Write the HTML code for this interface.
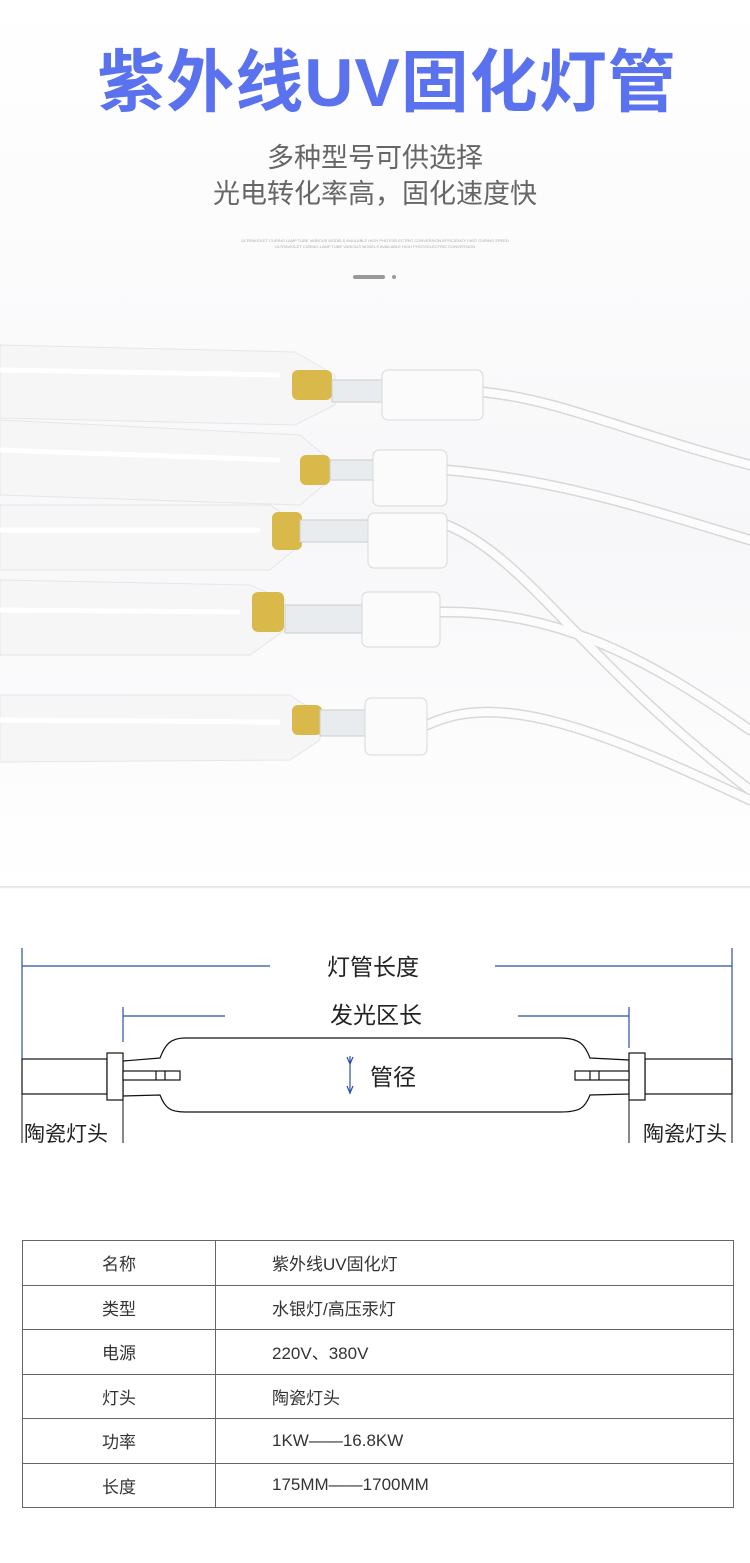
<!DOCTYPE html>
<html><head><meta charset="utf-8"><style>
body{margin:0;width:750px;height:1563px;background:#fff;position:relative;overflow:hidden;font-family:"Liberation Sans","Noto Sans CJK SC",sans-serif}
.a{position:absolute}
table{border-collapse:collapse;position:absolute;left:22px;top:1240px;width:712px}
td{border:1px solid #666;height:43.5px;font-size:17px;color:#333;padding:0}
td.n{width:192px;text-align:center}
td.v{padding-left:56px}
</style></head><body>
<div class="a" style="left:0;top:0;width:750px;height:888px;background:linear-gradient(#fff,#f7f7f9 60%,#fff)"></div>
<div class="a" style="left:12px;top:38px;width:750px;text-align:center;font-size:68px;font-weight:bold;color:#5a72ee;letter-spacing:1px;line-height:90px">紫外线UV固化灯管</div>
<div class="a" style="left:0;top:140px;width:750px;text-align:center;font-size:27px;color:#666;line-height:36px">多种型号可供选择<br>光电转化率高，固化速度快</div>
<div class="a" style="left:230px;top:238px;width:290px;text-align:center;font-size:4px;color:#aaa;line-height:6px">ULTRAVIOLET CURING LAMP TUBE VARIOUS MODELS AVAILABLE HIGH PHOTOELECTRIC CONVERSION EFFICIENCY FAST CURING SPEED ULTRAVIOLET CURING LAMP TUBE VARIOUS MODELS AVAILABLE HIGH PHOTOELECTRIC CONVERSION</div>
<div class="a" style="left:353px;top:275px;width:32px;height:4px;border-radius:2px;background:#999"></div>
<div class="a" style="left:392px;top:275px;width:4px;height:4px;border-radius:2px;background:#999"></div>
<svg class="a" style="left:0;top:330px" width="750" height="500">
<g fill="none" stroke="#d8d8d8" stroke-width="11" stroke-linecap="round">
<path d="M483 62 C560 70 620 100 750 135"/>
<path d="M447 140 C560 150 650 180 750 210"/>
<path d="M447 195 C530 230 580 330 750 460"/>
<path d="M440 282 C560 280 650 330 750 400"/>
<path d="M427 395 C500 360 600 400 750 470"/>
</g>
<g fill="none" stroke="#fcfcfc" stroke-width="8" stroke-linecap="round">
<path d="M483 62 C560 70 620 100 750 135"/>
<path d="M447 140 C560 150 650 180 750 210"/>
<path d="M447 195 C530 230 580 330 750 460"/>
<path d="M440 282 C560 280 650 330 750 400"/>
<path d="M427 395 C500 360 600 400 750 470"/>
</g>
<g fill="#f6f6f7" stroke="#e6e6ea">
<path d="M0 15 L295 22 L335 45 L335 75 L295 95 L0 88Z"/>
<path d="M0 90 L300 105 L330 130 L330 150 L300 175 L0 165Z"/>
<path d="M0 175 L270 175 L300 195 L300 215 L270 240 L0 240Z"/>
<path d="M0 250 L250 255 L285 270 L285 300 L250 325 L0 325Z"/>
<path d="M0 365 L290 365 L320 385 L320 410 L290 430 L0 432Z"/>
</g>
<g stroke="#fff" stroke-width="5">
<line x1="0" y1="40" x2="280" y2="45"/><line x1="0" y1="120" x2="280" y2="130"/><line x1="0" y1="200" x2="260" y2="200"/><line x1="0" y1="280" x2="240" y2="282"/><line x1="0" y1="390" x2="280" y2="392"/>
</g>
<g fill="#d9b94a"><rect x="292" y="40" width="40" height="30" rx="6"/><rect x="300" y="125" width="30" height="30" rx="6"/><rect x="272" y="182" width="30" height="38" rx="6"/><rect x="252" y="262" width="32" height="40" rx="6"/><rect x="292" y="375" width="30" height="30" rx="6"/></g>
<g fill="#e8ecee" stroke="#ccc"><rect x="332" y="50" width="50" height="22"/><rect x="330" y="130" width="45" height="20"/><rect x="300" y="190" width="68" height="22"/><rect x="285" y="275" width="80" height="28"/><rect x="320" y="380" width="45" height="26"/></g>
<g fill="#fbfbfb" stroke="#d8d8d8"><rect x="382" y="40" width="101" height="50" rx="6"/><rect x="373" y="120" width="74" height="56" rx="6"/><rect x="368" y="183" width="79" height="55" rx="6"/><rect x="362" y="262" width="78" height="55" rx="6"/><rect x="365" y="368" width="62" height="57" rx="6"/></g>
</svg>
<div class="a" style="left:0;top:886px;width:750px;height:3px;background:linear-gradient(#ddd,#fff)"></div>
<svg class="a" style="left:0;top:940px" width="750" height="210" font-family="Liberation Sans,Noto Sans CJK SC,sans-serif">
<g stroke="#111" stroke-width="1.2" fill="#fff">
<rect x="22" y="119" width="85" height="35"/><rect x="645" y="119" width="87" height="35"/>
<path d="M123 121 L160 118 C165 105 170 98 185 98 L560 98 C580 98 585 105 590 118 L629 120 L629 154 L590 155 C585 168 580 172 560 172 L185 172 C170 172 165 168 160 155 L123 156Z"/>
<rect x="107" y="113" width="16" height="47"/><rect x="629" y="113" width="16" height="47"/>
<rect x="123" y="131" width="57" height="9"/><rect x="575" y="131" width="54" height="9"/>
<line x1="156" y1="131" x2="156" y2="140"/><line x1="165" y1="131" x2="165" y2="140"/><line x1="590" y1="131" x2="590" y2="140"/><line x1="599" y1="131" x2="599" y2="140"/>
<line x1="22" y1="154" x2="22" y2="203" stroke-width="1"/><line x1="123" y1="156" x2="123" y2="203" stroke-width="1"/><line x1="629" y1="154" x2="629" y2="203" stroke-width="1"/><line x1="732" y1="154" x2="732" y2="203" stroke-width="1"/>
</g>
<g stroke="#2a4fa8" stroke-width="1.2" fill="none">
<line x1="22" y1="8" x2="22" y2="119"/><line x1="732" y1="8" x2="732" y2="119"/>
<line x1="22" y1="26" x2="270" y2="26"/><line x1="495" y1="26" x2="732" y2="26"/>
<line x1="123" y1="67" x2="123" y2="102"/><line x1="629" y1="67" x2="629" y2="108"/>
<line x1="123" y1="76" x2="225" y2="76"/><line x1="518" y1="76" x2="629" y2="76"/>
<line x1="350" y1="116" x2="350" y2="154"/><path d="M347 117 L350 124 L353 117 M347 146 L350 153 L353 146"/>
</g>
<g fill="#222" font-size="23"><text x="327" y="35">灯管长度</text><text x="330" y="83">发光区长</text><text x="370" y="145">管径</text>
<text x="24" y="201" font-size="21">陶瓷灯头</text><text x="643" y="201" font-size="21">陶瓷灯头</text></g>
</svg>
<table>
<tr><td class="n">名称</td><td class="v">紫外线UV固化灯</td></tr>
<tr><td class="n">类型</td><td class="v">水银灯/高压汞灯</td></tr>
<tr><td class="n">电源</td><td class="v">220V、380V</td></tr>
<tr><td class="n">灯头</td><td class="v">陶瓷灯头</td></tr>
<tr><td class="n">功率</td><td class="v">1KW——16.8KW</td></tr>
<tr><td class="n">长度</td><td class="v">175MM——1700MM</td></tr>
</table>
</body></html>
